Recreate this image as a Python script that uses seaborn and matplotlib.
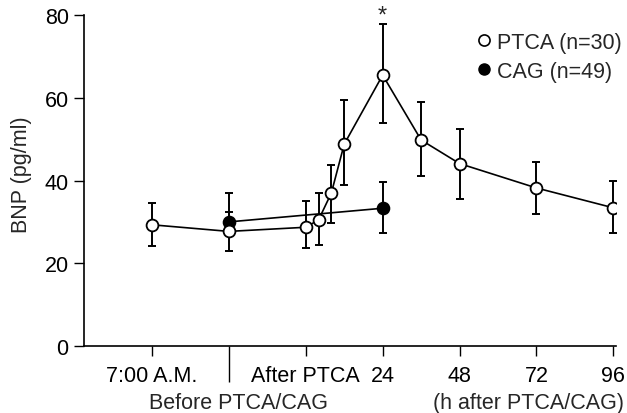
import numpy as np
import matplotlib
matplotlib.use("Agg")
import matplotlib.pyplot as plt
import seaborn as sns
from matplotlib.lines import Line2D

# positions on the x axis: 1 = 7:00 A.M., 2 = before, 3 = after PTCA (0 h), 4..7 = 24..96 h
ptca_x = [1, 2, 3, 3.167, 3.333, 3.5, 4, 4.5, 5, 6, 7]
ptca_y = [29.3, 27.7, 28.7, 30.5, 37.0, 48.8, 65.5, 49.8, 44.1, 38.2, 33.4]
ptca_hi = [34.5, 32.5, 35.0, 37.0, 43.8, 59.4, 77.8, 59.1, 52.4, 44.4, 39.9]
ptca_lo = [24.1, 23.0, 23.6, 24.4, 29.7, 38.9, 53.8, 41.0, 35.5, 31.8, 27.3]

cag_x = [2, 4]
cag_y = [30.0, 33.3]
cag_hi = [37.0, 39.6]
cag_lo = [30.0, 27.2]

tick_pos = [1, 3, 4, 5, 6, 7]
tick_labels = ["7:00 A.M.", "After PTCA", "24", "48", "72", "96"]

sns.set_style("ticks")
plt.rcParams['font.family'] = ['Liberation Sans', 'DejaVu Sans']
plt.rcParams['font.size'] = 15.5

fig = plt.figure(figsize=(6.27, 4.14), dpi=100)
ax = fig.add_axes([0.134, 0.162, 0.848, 0.799])


def draw_bars(x, y, hi, lo):
    y = np.array(y)
    err = [y - np.array(lo), np.array(hi) - y]
    ax.errorbar(x, y, yerr=err, fmt='none', ecolor='black', elinewidth=1.4,
                capsize=3.2, capthick=1.4, zorder=2)


draw_bars(ptca_x, ptca_y, ptca_hi, ptca_lo)
draw_bars(cag_x, cag_y, cag_hi, cag_lo)

sns.lineplot(x=cag_x, y=cag_y, ax=ax, color='black', linewidth=1.2,
             marker='o', markersize=8.5, markerfacecolor='black',
             markeredgecolor='black', markeredgewidth=1.3, zorder=3)
sns.lineplot(x=ptca_x, y=ptca_y, ax=ax, color='black', linewidth=1.2,
             marker='o', markersize=8.5, markerfacecolor='white',
             markeredgecolor='black', markeredgewidth=1.3, zorder=4)

ax.set_xlim(0.117, 7.03)
ax.set_ylim(0, 80)
ax.set_yticks([0, 20, 40, 60, 80])
ax.set_xticks(tick_pos)
ax.set_xticklabels(tick_labels)
ax.set_xticks([2], minor=True)
ax.tick_params(axis='x', which='major', direction='out', length=7, width=1, pad=7,
               color='black', labelcolor='black')
ax.tick_params(axis='x', which='minor', direction='out', length=26, width=1, color='black')
ax.tick_params(axis='y', direction='out', length=7, width=1, pad=4,
               color='black', labelcolor='black')
ax.set_ylabel("BNP (pg/ml)")
ax.yaxis.set_label_coords(-0.098, 0.52)
for s in ['top', 'right']:
    ax.spines[s].set_visible(False)
for s in ['left', 'bottom']:
    ax.spines[s].set_linewidth(1.2)
    ax.spines[s].set_color('black')

trans = ax.get_xaxis_transform()
ax.text(2.12, -0.172, "Before PTCA/CAG", transform=trans, ha='center', va='center')
ax.text(5.9, -0.172, "(h after PTCA/CAG)", transform=trans, ha='center', va='center')
ax.text(4, 80.0, "*", ha='center', va='center', fontsize=17, clip_on=False)

handles = [
    Line2D([], [], linestyle='none', marker='o', markersize=8, markerfacecolor='white',
           markeredgecolor='black', markeredgewidth=1.2, label="PTCA (n=30)"),
    Line2D([], [], linestyle='none', marker='o', markersize=8, markerfacecolor='black',
           markeredgecolor='black', label="CAG (n=49)"),
]
ax.legend(handles=handles, loc='upper right', bbox_to_anchor=(1.027, 0.975), frameon=False,
          handlelength=0.6, handletextpad=0.3, labelspacing=0.35, borderaxespad=0)

fig.savefig("out.png", dpi=100)
